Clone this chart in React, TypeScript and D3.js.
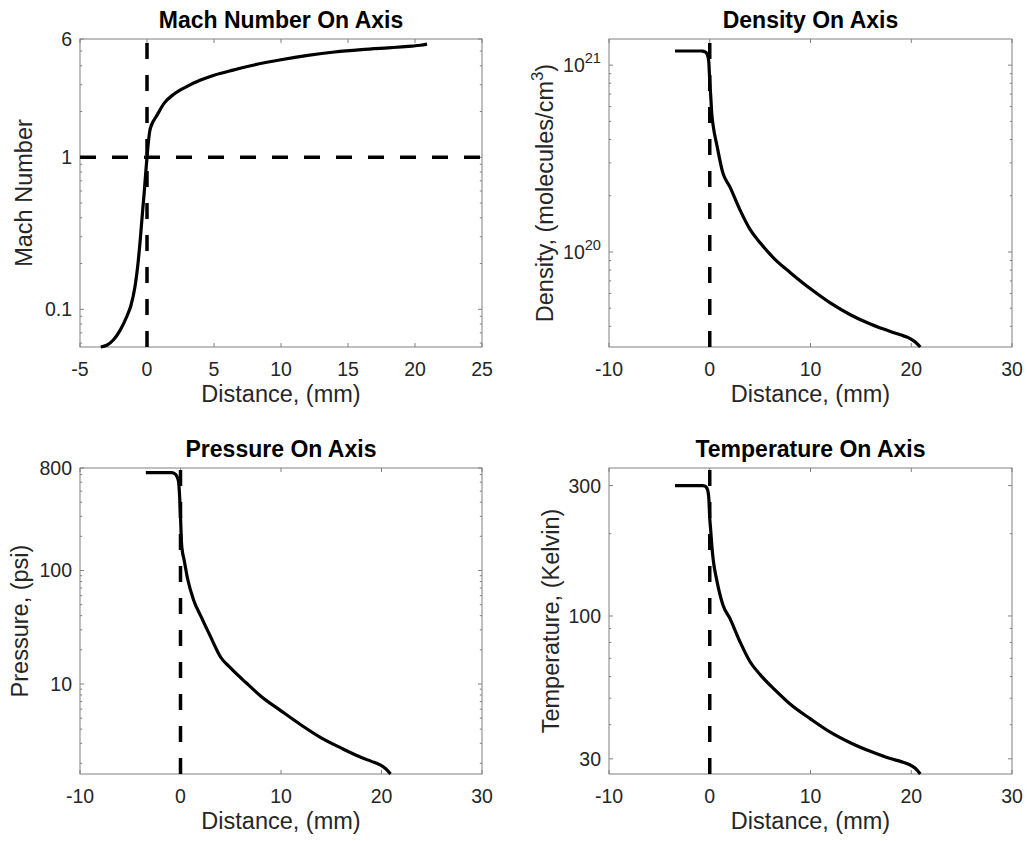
import React from 'react';
import * as d3 from 'd3';

// Distance along the nozzle axis (mm), shared by every profile
const distance = [
  -3.45, -3.0, -2.5, -2.0, -1.5, -1.2, -0.9, -0.7, -0.5, -0.35, -0.2, -0.1, 0, 0.1, 0.2, 0.35,
  0.7, 1.3, 2.0, 3.0, 4.0, 5.0, 6.5, 8.0, 10, 12, 14, 16, 18, 19.0, 19.8, 20.4, 20.9,
];

const machNumber = [
  0.0565, 0.058, 0.063, 0.073, 0.09, 0.106, 0.14, 0.19, 0.29, 0.42, 0.6, 0.78, 1.0, 1.25, 1.48, 1.64,
  1.86, 2.28, 2.6, 2.93, 3.22, 3.47, 3.76, 4.05, 4.38, 4.68, 4.93, 5.11, 5.25, 5.32, 5.39, 5.46, 5.55,
];

// molecules / cm^3
const density = [
  1.19e21, 1.19e21, 1.19e21, 1.19e21, 1.19e21, 1.19e21, 1.19e21, 1.188e21, 1.18e21, 1.165e21, 1.12e21,
  1.05e21, 8.2e20, 6.8e20, 5.5e20, 4.7e20, 3.75e20, 2.65e20, 2.23e20, 1.68e20, 1.32e20, 1.12e20, 9.1e19,
  7.75e19, 6.35e19, 5.32e19, 4.6e19, 4.1e19, 3.74e19, 3.59e19, 3.46e19, 3.3e19, 3.1e19,
];

// psi
const pressure = [
  729, 729, 729, 729, 729, 729, 728, 722, 705, 670, 610, 470, 300, 175, 145, 125,
  85, 55, 40, 26, 17.2, 13.8, 10.3, 7.8, 5.8, 4.35, 3.35, 2.72, 2.25, 2.08, 1.95, 1.8, 1.61,
];

// Kelvin
const temperature = [
  300, 300, 300, 300, 300, 300, 300, 300, 299, 296, 288, 272, 228, 205, 182, 160,
  135, 110, 98, 80.5, 68, 61, 53.5, 47.5, 42, 37.5, 34.3, 31.9, 30.0, 29.3, 28.6, 27.7, 26.4,
];

const machXTicks = [-5, 0, 5, 10, 15, 20, 25];
const wideXTicks = [-10, 0, 10, 20, 30];
const machYTicks = [0.1, 1, 6];
const densityYTicks = [1e20, 1e21];
const pressureYTicks = [10, 100, 800];
const temperatureYTicks = [30, 100, 300];

const FONT = "'Liberation Sans', Arial, Helvetica, sans-serif";
const AXIS_COLOR = '#808080';
const TEXT_COLOR = '#262626';
const TICK_SIZE = 19.5;
const LABEL_SIZE = 23.5;
const TITLE_SIZE = 23;

type Box = { x0: number; x1: number; y0: number; y1: number };

type PanelSpec = {
  title: string;
  yLabel: React.ReactNode;
  yLabelX: number;
  values: number[];
  xDomain: [number, number];
  xTicks: number[];
  yDomain: [number, number];
  yTicks: number[];
  yTickFormat: (v: number) => React.ReactNode;
  box: Box;
  sonicLine?: number;
};

const plain = (v: number) => String(v);
const powerOfTen = (v: number) => (
  <>
    10
    <tspan dy={-9} fontSize={TICK_SIZE * 0.75}>
      {Math.round(Math.log10(v))}
    </tspan>
  </>
);

function logMinorTicks(domain: [number, number], majors: number[]): number[] {
  const [lo, hi] = domain;
  const out: number[] = [];
  for (let e = Math.floor(Math.log10(lo)); e <= Math.ceil(Math.log10(hi)); e++) {
    for (let k = 1; k <= 9; k++) {
      const v = k * Math.pow(10, e);
      if (v < lo * 0.999 || v > hi * 1.001) continue;
      if (majors.some((m) => Math.abs(m - v) / m < 1e-6)) continue;
      out.push(v);
    }
  }
  return out;
}

const left: Pick<Box, 'x0' | 'x1'> = { x0: 80, x1: 482 };
const right: Pick<Box, 'x0' | 'x1'> = { x0: 609, x1: 1012 };
const top: Pick<Box, 'y0' | 'y1'> = { y0: 39, y1: 347 };
const bottom: Pick<Box, 'y0' | 'y1'> = { y0: 468, y1: 774 };

const panels: PanelSpec[] = [
  {
    title: 'Mach Number On Axis',
    yLabel: 'Mach Number',
    yLabelX: 24,
    values: machNumber,
    xDomain: [-5, 25],
    xTicks: machXTicks,
    yDomain: [0.0565, 6],
    yTicks: machYTicks,
    yTickFormat: plain,
    box: { ...left, ...top },
    sonicLine: 1,
  },
  {
    title: 'Density On Axis',
    yLabel: (
      <>
        Density, (molecules/cm
        <tspan dy={-10} fontSize={LABEL_SIZE * 0.72}>
          3
        </tspan>
        <tspan dy={10}>)</tspan>
      </>
    ),
    yLabelX: 545,
    values: density,
    xDomain: [-10, 30],
    xTicks: wideXTicks,
    yDomain: [3.1e19, 1.38e21],
    yTicks: densityYTicks,
    yTickFormat: powerOfTen,
    box: { ...right, ...top },
  },
  {
    title: 'Pressure On Axis',
    yLabel: 'Pressure, (psi)',
    yLabelX: 20,
    values: pressure,
    xDomain: [-10, 30],
    xTicks: wideXTicks,
    yDomain: [1.61, 800],
    yTicks: pressureYTicks,
    yTickFormat: plain,
    box: { ...left, ...bottom },
  },
  {
    title: 'Temperature On Axis',
    yLabel: 'Temperature, (Kelvin)',
    yLabelX: 551,
    values: temperature,
    xDomain: [-10, 30],
    xTicks: wideXTicks,
    yDomain: [26.4, 348],
    yTicks: temperatureYTicks,
    yTickFormat: plain,
    box: { ...right, ...bottom },
  },
];

function Panel({ p }: { p: PanelSpec }) {
  const { box } = p;
  const x = d3.scaleLinear().domain(p.xDomain).range([box.x0, box.x1]);
  const y = d3.scaleLog().domain(p.yDomain).range([box.y1, box.y0]);
  const line = d3
    .line<number>()
    .x((_, i) => x(distance[i]))
    .y((d) => y(d))
    .curve(d3.curveMonotoneX);
  const minors = logMinorTicks(p.yDomain, p.yTicks);
  const majorLen = 4;
  const minorLen = 2.2;
  const cx = (box.x0 + box.x1) / 2;
  const cy = (box.y0 + box.y1) / 2;

  return (
    <g>
      <rect x={box.x0} y={box.y0} width={box.x1 - box.x0} height={box.y1 - box.y0} fill="#fff" />
      {/* x ticks, bottom and top, pointing inward */}
      {p.xTicks.map((t) => (
        <g key={`xt${t}`} stroke={AXIS_COLOR} strokeWidth={1}>
          <line x1={x(t)} x2={x(t)} y1={box.y1} y2={box.y1 - majorLen} />
          <line x1={x(t)} x2={x(t)} y1={box.y0} y2={box.y0 + majorLen} />
        </g>
      ))}
      {/* y ticks, left and right */}
      {p.yTicks.map((t) => (
        <g key={`yt${t}`} stroke={AXIS_COLOR} strokeWidth={1}>
          <line x1={box.x0} x2={box.x0 + majorLen} y1={y(t)} y2={y(t)} />
          <line x1={box.x1} x2={box.x1 - majorLen} y1={y(t)} y2={y(t)} />
        </g>
      ))}
      {minors.map((t) => (
        <g key={`ym${t}`} stroke={AXIS_COLOR} strokeWidth={1}>
          <line x1={box.x0} x2={box.x0 + minorLen} y1={y(t)} y2={y(t)} />
          <line x1={box.x1} x2={box.x1 - minorLen} y1={y(t)} y2={y(t)} />
        </g>
      ))}
      <rect
        x={box.x0}
        y={box.y0}
        width={box.x1 - box.x0}
        height={box.y1 - box.y0}
        fill="none"
        stroke={AXIS_COLOR}
        strokeWidth={1}
      />
      {/* profile */}
      <path d={line(p.values) ?? ''} fill="none" stroke="#000" strokeWidth={3.2} strokeLinejoin="round" />
      {/* nozzle throat */}
      <path
        d={`M${x(0)},${box.y1}V${box.y0}`}
        stroke="#000"
        strokeWidth={3.5}
        strokeDasharray="16,16"
        fill="none"
      />
      {p.sonicLine !== undefined && (
        <path
          d={`M${box.x0},${y(p.sonicLine)}H${box.x1}`}
          stroke="#000"
          strokeWidth={3.5}
          strokeDasharray="16,16"
          fill="none"
        />
      )}
      {/* tick labels */}
      <g fontFamily={FONT} fontSize={TICK_SIZE} fill={TEXT_COLOR}>
        {p.xTicks.map((t) => (
          <text key={`xl${t}`} x={x(t)} y={box.y1 + 29} textAnchor="middle">
            {t}
          </text>
        ))}
        {p.yTicks.map((t) => (
          <text key={`yl${t}`} x={box.x0 - 8} y={y(t) + 7} textAnchor="end">
            {p.yTickFormat(t)}
          </text>
        ))}
      </g>
      <text
        x={cx}
        y={box.y1 + 55}
        textAnchor="middle"
        fontFamily={FONT}
        fontSize={LABEL_SIZE}
        fill={TEXT_COLOR}
      >
        Distance, (mm)
      </text>
      <text
        transform={`translate(${p.yLabelX + 8},${cy}) rotate(-90)`}
        textAnchor="middle"
        fontFamily={FONT}
        fontSize={LABEL_SIZE}
        fill={TEXT_COLOR}
      >
        {p.yLabel}
      </text>
      <text
        x={cx}
        y={box.y0 - 11}
        textAnchor="middle"
        fontFamily={FONT}
        fontSize={TITLE_SIZE}
        fontWeight="bold"
        fill="#000"
      >
        {p.title}
      </text>
    </g>
  );
}

export default function App() {
  return (
    <svg
      width={1027}
      height={841}
      viewBox="0 0 1027 841"
      style={{ position: 'absolute', left: 0, top: 0, background: '#fff' }}
    >
      <rect width={1027} height={841} fill="#fff" />
      {panels.map((p) => (
        <Panel key={p.title} p={p} />
      ))}
    </svg>
  );
}
